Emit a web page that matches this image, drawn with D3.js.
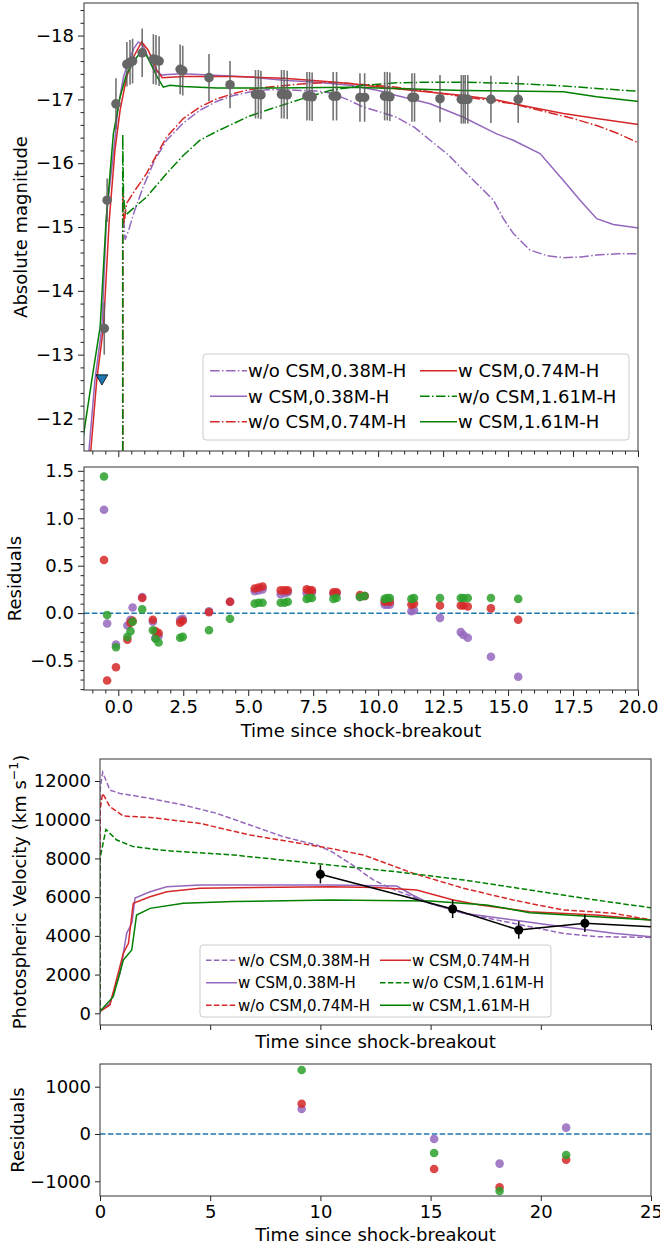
<!DOCTYPE html>
<html>
<head>
<meta charset="utf-8">
<script src="https://cdn.jsdelivr.net/npm/d3@7/dist/d3.min.js"></script>
<style>
body { margin: 0; background: white; }
</style>
</head>
<body>
<div id="chart"></div>
<script>
var W = 660, H = 1247;
var fontFam = "DejaVu Sans, sans-serif";

// ---------------- data: light curve ----------------
var obsTime = [-0.54, -0.43, -0.09, 0.33, 0.45, 0.55, 0.92, 1.35, 1.45, 1.57, 2.38, 2.48, 3.49, 4.30,
               5.28, 5.39, 5.49, 6.28, 6.38, 6.50, 7.26, 7.36, 7.46, 8.27, 8.40, 9.30, 9.48,
               10.25, 10.35, 10.45, 11.30, 11.40, 12.38, 13.20, 13.28, 13.35, 13.45, 14.34, 15.39];
var obsMag = [-13.41, -15.42, -16.93, -17.55, -17.58, -17.60, -17.73, -17.63, -17.62, -17.60, -17.47, -17.45, -17.34, -17.23,
              -17.08, -17.08, -17.07, -17.08, -17.08, -17.07, -17.05, -17.05, -17.04, -17.05, -17.05, -17.03, -17.03,
              -17.05, -17.05, -17.04, -17.03, -17.03, -17.01, -17.00, -17.00, -17.00, -17.00, -17.00, -17.00];
var obsErr = [0.41, 0.34, 0.40, 0.35, 0.35, 0.35, 0.38, 0.39, 0.39, 0.39, 0.39, 0.39, 0.37, 0.37,
              0.38, 0.38, 0.38, 0.38, 0.38, 0.38, 0.38, 0.38, 0.38, 0.38, 0.38, 0.38, 0.38,
              0.38, 0.38, 0.38, 0.38, 0.38, 0.37, 0.38, 0.38, 0.38, 0.38, 0.37, 0.37];
var limitTime = [-0.63];
var limitMag = [-12.63];

// model light curves
var lcT_noCSM038 = [0.17, 0.17, 0.2, 0.26, 0.4, 0.58, 0.96, 1.4, 1.86, 2.5, 3.14, 3.8, 4.43, 5.0, 5.71, 6.5, 7.64, 8.15, 8.8, 9.43,
                    10.1, 10.71, 11.4, 12.0, 12.7, 13.28, 13.92, 14.44, 14.82, 15.2, 15.84, 16.5, 17.13, 17.8, 18.41, 19.2, 19.95, 20];
var lcM_noCSM038 = [-10.0, -15.68, -15.2, -14.8, -14.95, -15.2, -15.63, -16.05, -16.36, -16.63, -16.83, -16.97, -17.06, -17.11, -17.15, -17.15, -17.13, -17.10, -17.0, -16.88,
                    -16.8, -16.72, -16.56, -16.36, -16.13, -15.89, -15.63, -15.42, -15.13, -14.9, -14.64, -14.55, -14.52, -14.53, -14.56, -14.58, -14.58, -14.58];
var lcT_CSM038 = [-1.2, -1.13, -0.9, -0.63, -0.45, -0.19, 0.0, 0.2, 0.4, 0.6, 0.77, 0.95, 1.2, 1.45, 1.67, 1.9, 2.5, 5.07, 6.35, 7.64,
                  8.92, 10.0, 10.71, 12.0, 13.28, 14.56, 15.2, 16.23, 17.13, 17.77, 18.41, 19.05, 19.95, 20];
var lcM_CSM038 = [-11.2, -11.49, -12.6, -13.43, -15.2, -16.15, -16.9, -17.35, -17.6, -17.8, -17.9, -17.85, -17.6, -17.45, -17.38, -17.39, -17.40, -17.35, -17.30, -17.27,
                  -17.22, -17.14, -17.06, -16.93, -16.72, -16.46, -16.36, -16.15, -15.73, -15.42, -15.13, -15.04, -14.99, -14.99];
var lcT_noCSM074 = [0.17, 0.17, 0.19, 0.22, 0.32, 0.6, 1.09, 1.5, 1.86, 2.5, 3.14, 3.8, 4.43, 5.0, 5.71, 7.0, 8.15, 9.5, 10.71, 12.0,
                    13.28, 14.2, 15.2, 16.49, 17.5, 18.41, 19.2, 19.95, 20];
var lcM_noCSM074 = [-10.0, -15.6, -15.3, -15.05, -15.37, -15.55, -15.84, -16.15, -16.41, -16.7, -16.88, -17.01, -17.09, -17.15, -17.19, -17.24, -17.27, -17.23, -17.19, -17.12,
                    -17.04, -16.99, -16.93, -16.80, -16.70, -16.59, -16.47, -16.33, -16.32];
var lcT_CSM074 = [-1.15, -1.06, -0.83, -0.57, -0.35, -0.13, 0.07, 0.32, 0.58, 0.9, 1.15, 1.48, 1.69, 2.5, 4.4, 5.07, 6.35, 7.64, 8.92, 9.43,
                  11.35, 13.28, 14.56, 15.84, 17.13, 18.41, 19.95, 20];
var lcM_CSM074 = [-11.1, -11.49, -12.6, -13.43, -15.1, -16.2, -16.83, -17.35, -17.66, -17.9, -17.77, -17.46, -17.34, -17.36, -17.36, -17.35, -17.33, -17.29, -17.25, -17.22,
                  -17.14, -17.06, -16.99, -16.88, -16.78, -16.70, -16.61, -16.61];
var lcT_noCSM161 = [0.17, 0.17, 0.2, 0.27, 0.32, 0.6, 1.09, 1.86, 2.5, 3.14, 3.8, 4.43, 5.0, 5.71, 7.0, 8.15, 9.43, 10.71, 12.0, 13.28,
                    15.2, 17.13, 18.41, 19.95, 20];
var lcM_noCSM161 = [-10.0, -16.45, -15.5, -15.2, -15.2, -15.3, -15.47, -15.84, -16.12, -16.36, -16.5, -16.62, -16.73, -16.83, -17.0, -17.14, -17.22, -17.26, -17.27, -17.27,
                    -17.25, -17.21, -17.17, -17.13, -17.13];
var lcT_CSM161 = [-1.5, -1.32, -1.02, -0.7, -0.47, -0.19, 0.07, 0.32, 0.71, 0.96, 1.2, 1.5, 1.73, 1.99, 2.5, 3.79, 6.0, 8.92, 10.71, 13.28,
                  17.13, 18.41, 19.95, 20];
var lcM_CSM161 = [-11.3, -11.79, -12.6, -13.43, -15.1, -16.46, -17.04, -17.4, -17.66, -17.78, -17.6, -17.35, -17.19, -17.22, -17.2, -17.18, -17.18, -17.19, -17.17, -17.14,
                  -17.12, -17.04, -16.97, -16.97];

// residuals of the light curve
var resTime = [-0.55, -0.43, -0.09, 0.35, 0.47, 0.55, 0.92, 1.33, 1.43, 1.55, 2.38, 2.48, 3.49, 4.30, 5.25, 5.40, 5.55, 6.25, 6.40, 6.52,
               7.25, 7.35, 7.45, 8.28, 8.40, 9.30, 9.48, 10.25, 10.35, 10.45, 11.28, 11.38, 12.38, 13.18, 13.28, 13.45, 14.34, 15.39];
var resCSM038 = [1.09, -0.11, -0.33, -0.13, -0.07, 0.06, 0.17, -0.09, -0.26, -0.24, -0.07, -0.06, 0.02, 0.12, 0.23, 0.24, 0.25, 0.20, 0.21, 0.22,
                 0.21, 0.22, 0.22, 0.20, 0.21, 0.17, 0.18, 0.09, 0.09, 0.09, 0.02, 0.03, -0.05, -0.20, -0.23, -0.26, -0.46, -0.67];
var resCSM074 = [0.56, -0.71, -0.57, -0.28, -0.10, -0.08, 0.16, -0.07, -0.19, -0.21, -0.10, -0.08, 0.01, 0.12, 0.26, 0.27, 0.28, 0.24, 0.24, 0.24,
                 0.25, 0.24, 0.24, 0.22, 0.22, 0.19, 0.18, 0.12, 0.13, 0.12, 0.09, 0.10, 0.08, 0.08, 0.08, 0.07, 0.05, -0.07];
var resCSM161 = [1.44, -0.02, -0.36, -0.25, -0.19, -0.09, 0.04, -0.18, -0.27, -0.31, -0.26, -0.25, -0.18, -0.06, 0.10, 0.11, 0.11, 0.11, 0.11, 0.12,
                 0.15, 0.16, 0.16, 0.15, 0.16, 0.17, 0.18, 0.15, 0.16, 0.16, 0.15, 0.16, 0.16, 0.16, 0.16, 0.16, 0.16, 0.15];

// ---------------- data: velocity ----------------
var velObsTime = [10.0, 16.0, 19.0, 22.0, 28.0];
var velObsVal = [7180, 5390, 4300, 4650, 4300];
var velObsErr = [470, 470, 450, 450, 450];

var vT_noCSM038 = [0, 0, 0.12, 0.45, 0.91, 2.27, 3.78, 5.29, 6.8, 8.32, 9.83, 10.44, 11.4, 12.4, 13.3, 14.2, 14.97, 16.5, 18.75, 21.0, 22.5, 25];
var vV_noCSM038 = [0, 11500, 12450, 11530, 11360, 11100, 10760, 10330, 9730, 9120, 8690, 8400, 7700, 6890, 6400, 6020, 5680, 5170, 4650, 4130, 3960, 3920];
var vT_CSM038 = [0, 0.45, 0.91, 1.21, 1.36, 1.45, 1.59, 2.27, 3.03, 4.54, 10.44, 13.46, 14.2, 14.97, 16.5, 18.75, 21.0, 23.3, 25];
var vV_CSM038 = [100, 520, 2070, 4130, 4470, 4700, 5950, 6280, 6540, 6630, 6630, 6570, 6100, 5680, 5170, 4820, 4470, 4130, 3960];
var vT_noCSM074 = [0, 0, 0.12, 0.45, 1.06, 2.27, 4.54, 6.8, 9.07, 10.44, 11.95, 14.22, 16.5, 18.75, 21.0, 23.3, 25];
var vV_noCSM074 = [0, 10500, 11360, 10670, 10190, 10120, 9810, 9210, 8780, 8520, 8180, 7230, 6460, 5850, 5340, 5170, 4820];
var vT_CSM074 = [0, 0.45, 1.06, 1.29, 1.51, 2.27, 3.03, 4.54, 10.44, 12.5, 14.37, 16.03, 17.24, 19.5, 22.5, 25];
var vV_CSM074 = [100, 430, 3100, 3620, 5680, 6020, 6280, 6460, 6540, 6500, 6370, 5850, 5600, 5250, 5080, 4820];
var vT_noCSM161 = [0, 0, 0.27, 0.76, 1.51, 3.03, 6.05, 10.44, 13.46, 16.5, 19.5, 22.5, 25];
var vV_noCSM161 = [0, 8000, 9500, 8950, 8610, 8400, 8180, 7660, 7310, 6890, 6370, 5850, 5450];
var vT_CSM161 = [0, 0.6, 1.06, 1.44, 1.66, 2.27, 3.78, 6.05, 10.44, 14.97, 17.54, 19.5, 22.5, 25];
var vV_CSM161 = [100, 860, 2750, 3270, 5080, 5420, 5680, 5770, 5850, 5800, 5600, 5200, 4990, 4820];

var velResTime = [9.15, 15.16, 18.13, 21.15];
var velResCSM038 = [529, -106, -626, 134];
var velResCSM074 = [640, -740, -1127, -543];
var velResCSM161 = [1353, -402, -1206, -444];

// labels and ticks
var legendLabels = ["w/o CSM,0.38M-H", "w CSM,0.38M-H", "w/o CSM,0.74M-H", "w CSM,0.74M-H", "w/o CSM,1.61M-H", "w CSM,1.61M-H"];
var lcYTicks = [-18, -17, -16, -15, -14, -13, -12];
var resXTicks = [0, 2.5, 5, 7.5, 10, 12.5, 15, 17.5, 20];
var resYTicks = [-0.5, 0, 0.5, 1.0, 1.5];
var velYTicks = [0, 2000, 4000, 6000, 8000, 10000, 12000];
var velXTicks = [0, 5, 10, 15, 20, 25];
var velResYTicks = [-1000, 0, 1000];

// ---------------- styles ----------------
var purple = "#9467bd", red = "#d62728", green = "#008000";
var dotColors = ["#9467bd", "#d62728", "#2ca02c"];
var dashDot = "9.6,2.4,1.5,2.4";
var dashed = "5.5,2.4";

var lcModels = [
  {t: lcT_noCSM038, v: lcM_noCSM038, color: purple, dash: dashDot},
  {t: lcT_CSM038, v: lcM_CSM038, color: purple, dash: null},
  {t: lcT_noCSM074, v: lcM_noCSM074, color: red, dash: dashDot},
  {t: lcT_CSM074, v: lcM_CSM074, color: red, dash: null},
  {t: lcT_noCSM161, v: lcM_noCSM161, color: green, dash: dashDot},
  {t: lcT_CSM161, v: lcM_CSM161, color: green, dash: null}
];
var velModels = [
  {t: vT_noCSM038, v: vV_noCSM038, color: purple, dash: dashed},
  {t: vT_CSM038, v: vV_CSM038, color: purple, dash: null},
  {t: vT_noCSM074, v: vV_noCSM074, color: red, dash: dashed},
  {t: vT_CSM074, v: vV_CSM074, color: red, dash: null},
  {t: vT_noCSM161, v: vV_noCSM161, color: green, dash: dashed},
  {t: vT_CSM161, v: vV_CSM161, color: green, dash: null}
];

var svg = d3.select("#chart").append("svg")
    .attr("width", W)
    .attr("height", H)
    .style("font-family", fontFam);

svg.append("rect").attr("width", W).attr("height", H).attr("fill", "white");

// panel boxes in pixels
var lcBox = {left: 84, right: 638, top: 3, bottom: 451};
var resBox = {left: 84, right: 638, top: 467, bottom: 690};
var velBox = {left: 100, right: 651, top: 759, bottom: 1025};
var vresBox = {left: 100, right: 651, top: 1064, bottom: 1196};

// scales
var xLC = d3.scaleLinear().domain([-1.32, 20]).range([lcBox.left, lcBox.right]);
var yLC = d3.scaleLinear().domain([-18.51, -11.49]).range([lcBox.top, lcBox.bottom]);
var yRes = d3.scaleLinear().domain([-0.81, 1.54]).range([resBox.bottom, resBox.top]);
var xVel = d3.scaleLinear().domain([0, 25]).range([velBox.left, velBox.right]);
var yVel = d3.scaleLinear().domain([-605, 13137]).range([velBox.bottom, velBox.top]);
var yVres = d3.scaleLinear().domain([-1311, 1480]).range([vresBox.bottom, vresBox.top]);

var clipId = 0;
function makeClip(box) {
    clipId++;
    svg.append("clipPath").attr("id", "clip" + clipId)
        .append("rect")
        .attr("x", box.left).attr("y", box.top)
        .attr("width", box.right - box.left).attr("height", box.bottom - box.top);
    return "url(#clip" + clipId + ")";
}

function styleAxis(g, size) {
    g.select(".domain").remove();
    g.selectAll("line").attr("stroke", "#222").attr("stroke-width", 1);
    g.selectAll("text").attr("font-size", size).attr("fill", "black").attr("font-family", fontFam);
}

function frame(box) {
    svg.append("rect")
        .attr("x", box.left).attr("y", box.top)
        .attr("width", box.right - box.left).attr("height", box.bottom - box.top)
        .attr("fill", "none").attr("stroke", "#333").attr("stroke-width", 1);
}

function minorRange(a, b, step, majors) {
    return d3.range(Math.round(a / step), Math.round(b / step) + 1)
        .map(function(i) { return +(i * step).toFixed(3); })
        .filter(function(v) { return majors.indexOf(v) < 0; });
}

function drawLines(g, models, x, y) {
    var line = d3.line()
        .x(function(d) { return x(d[0]); })
        .y(function(d) { return y(d[1]); });
    models.forEach(function(m) {
        g.append("path")
            .datum(d3.zip(m.t, m.v))
            .attr("d", line)
            .attr("fill", "none")
            .attr("stroke", m.color)
            .attr("stroke-width", 1.5)
            .attr("stroke-dasharray", m.dash);
    });
}

function drawDots(g, times, series, x, y) {
    series.forEach(function(vals, i) {
        g.selectAll(null)
            .data(d3.zip(times, vals))
            .enter().append("circle")
            .attr("cx", function(d) { return x(d[0]); })
            .attr("cy", function(d) { return y(d[1]); })
            .attr("r", 4.3)
            .attr("fill", dotColors[i])
            .attr("fill-opacity", 0.85);
    });
}

function legend(x0, y0, w, h, rowH, colX, handleLen, fontSize, models) {
    var lg = svg.append("g");
    lg.append("rect")
        .attr("x", x0).attr("y", y0).attr("width", w).attr("height", h)
        .attr("rx", 3)
        .attr("fill", "white").attr("fill-opacity", 0.8)
        .attr("stroke", "#cccccc");
    models.forEach(function(m, i) {
        var col = Math.floor(i / 3), row = i % 3;
        var lx = colX[col], ly = y0 + rowH * (row + 0.5) + 4;
        lg.append("line")
            .attr("x1", lx).attr("x2", lx + handleLen)
            .attr("y1", ly).attr("y2", ly)
            .attr("stroke", m.color).attr("stroke-width", 1.5)
            .attr("stroke-dasharray", m.dash);
        lg.append("text")
            .attr("x", lx + handleLen + 1).attr("y", ly)
            .attr("dy", "0.35em")
            .attr("font-size", fontSize)
            .text(legendLabels[i]);
    });
}

function yLabel(txt, x, y) {
    return svg.append("text")
        .attr("transform", "translate(" + x + "," + y + ") rotate(-90)")
        .attr("text-anchor", "middle")
        .attr("dy", "0.35em")
        .attr("font-size", 18)
        .text(txt);
}

function xLabel(txt, x, y) {
    svg.append("text")
        .attr("x", x).attr("y", y)
        .attr("text-anchor", "middle")
        .attr("font-size", 18)
        .text(txt);
}

// ================= panel 1: light curve =================
var lcX = [0, 2.5, 5, 7.5, 10, 12.5, 15, 17.5, 20];
svg.append("g").attr("transform", "translate(0," + lcBox.bottom + ")")
    .call(d3.axisBottom(xLC).tickValues(minorRange(-1, 20, 0.5, lcX)).tickSize(3.5).tickFormat(""))
    .call(styleAxis, 18);
svg.append("g").attr("transform", "translate(0," + lcBox.bottom + ")")
    .call(d3.axisBottom(xLC).tickValues(lcX).tickSize(6).tickFormat(""))
    .call(styleAxis, 18);
svg.append("g").attr("transform", "translate(" + lcBox.left + ",0)")
    .call(d3.axisLeft(yLC).tickValues(minorRange(-18.4, -11.6, 0.2, lcYTicks)).tickSize(3.5).tickFormat(""))
    .call(styleAxis, 18);
svg.append("g").attr("transform", "translate(" + lcBox.left + ",0)")
    .call(d3.axisLeft(yLC).tickValues(lcYTicks).tickSize(6).tickPadding(4).tickFormat(d3.format("d")))
    .call(styleAxis, 18);

var lcG = svg.append("g").attr("clip-path", makeClip(lcBox));
drawLines(lcG, lcModels, xLC, yLC);

// observed points with error bars
var obs = d3.zip(obsTime, obsMag, obsErr);
lcG.selectAll(".err").data(obs).enter().append("line")
    .attr("x1", function(d) { return xLC(d[0]); })
    .attr("x2", function(d) { return xLC(d[0]); })
    .attr("y1", function(d) { return yLC(d[1] - d[2]); })
    .attr("y2", function(d) { return yLC(d[1] + d[2]); })
    .attr("stroke", "#5a5a5a").attr("stroke-width", 1.6).attr("stroke-opacity", 0.85);
lcG.selectAll(".obs").data(obs).enter().append("circle")
    .attr("cx", function(d) { return xLC(d[0]); })
    .attr("cy", function(d) { return yLC(d[1]); })
    .attr("r", 4.8)
    .attr("fill", "#666666");

// upper limit triangle
lcG.selectAll(".lim").data(d3.zip(limitTime, limitMag)).enter().append("path")
    .attr("d", d3.symbol().type(d3.symbolTriangle).size(60))
    .attr("transform", function(d) { return "translate(" + xLC(d[0]) + "," + yLC(d[1]) + ") rotate(180)"; })
    .attr("fill", "#1f77b4").attr("stroke", "black").attr("stroke-width", 0.8);

frame(lcBox);
legend(203, 354, 426, 86, 25.5, [210, 420], 37, 18, lcModels);
yLabel("Absolute magnitude", 21, (lcBox.top + lcBox.bottom) / 2);

// ================= panel 2: residuals =================
svg.append("g").attr("transform", "translate(0," + resBox.bottom + ")")
    .call(d3.axisBottom(xLC).tickValues(minorRange(-1, 20, 0.5, resXTicks)).tickSize(3.5).tickFormat(""))
    .call(styleAxis, 18);
svg.append("g").attr("transform", "translate(0," + resBox.bottom + ")")
    .call(d3.axisBottom(xLC).tickValues(resXTicks).tickSize(6).tickPadding(4).tickFormat(d3.format(".1f")))
    .call(styleAxis, 18);
svg.append("g").attr("transform", "translate(" + resBox.left + ",0)")
    .call(d3.axisLeft(yRes).tickValues(minorRange(-0.8, 1.5, 0.1, resYTicks)).tickSize(3.5).tickFormat(""))
    .call(styleAxis, 18);
svg.append("g").attr("transform", "translate(" + resBox.left + ",0)")
    .call(d3.axisLeft(yRes).tickValues(resYTicks).tickSize(6).tickPadding(4).tickFormat(d3.format(".1f")))
    .call(styleAxis, 18);

var resG = svg.append("g").attr("clip-path", makeClip(resBox));
resG.append("line")
    .attr("x1", resBox.left).attr("x2", resBox.right)
    .attr("y1", yRes(0)).attr("y2", yRes(0))
    .attr("stroke", "#1f77b4").attr("stroke-width", 1.5).attr("stroke-dasharray", "5.5,2.4");
drawDots(resG, resTime, [resCSM038, resCSM074, resCSM161], xLC, yRes);
frame(resBox);
yLabel("Residuals", 15, (resBox.top + resBox.bottom) / 2);
xLabel("Time since shock-breakout", (resBox.left + resBox.right) / 2, 737);

// ================= panel 3: velocity =================
svg.append("g").attr("transform", "translate(0," + velBox.bottom + ")")
    .call(d3.axisBottom(xVel).tickValues(velXTicks).tickSize(5).tickFormat(""))
    .call(styleAxis, 18);
svg.append("g").attr("transform", "translate(" + velBox.left + ",0)")
    .call(d3.axisLeft(yVel).tickValues(velYTicks).tickSize(5).tickPadding(4).tickFormat(d3.format("d")))
    .call(styleAxis, 18);

var velG = svg.append("g").attr("clip-path", makeClip(velBox));
drawLines(velG, velModels, xVel, yVel);

var vobs = d3.zip(velObsTime, velObsVal, velObsErr);
velG.append("path")
    .datum(vobs)
    .attr("d", d3.line().x(function(d) { return xVel(d[0]); }).y(function(d) { return yVel(d[1]); }))
    .attr("fill", "none").attr("stroke", "black").attr("stroke-width", 1.5);
velG.selectAll(".verr").data(vobs).enter().append("line")
    .attr("x1", function(d) { return xVel(d[0]); })
    .attr("x2", function(d) { return xVel(d[0]); })
    .attr("y1", function(d) { return yVel(d[1] - d[2]); })
    .attr("y2", function(d) { return yVel(d[1] + d[2]); })
    .attr("stroke", "black").attr("stroke-width", 1.5);
velG.selectAll(".vobs").data(vobs).enter().append("circle")
    .attr("cx", function(d) { return xVel(d[0]); })
    .attr("cy", function(d) { return yVel(d[1]); })
    .attr("r", 4.5)
    .attr("fill", "black");

frame(velBox);
legend(200, 945, 351, 72, 22.5, [206, 380], 31, 15, velModels);

var vl = yLabel("", 20, (velBox.top + velBox.bottom) / 2);
vl.append("tspan").text("Photospheric Velocity (km s");
vl.append("tspan").attr("font-size", 12.5).attr("baseline-shift", "super").attr("dy", "-0.1em").text("\u22121");
vl.append("tspan").attr("dy", "0.1em").text(")");
xLabel("Time since shock-breakout", (velBox.left + velBox.right) / 2, 1048);

// ================= panel 4: velocity residuals =================
svg.append("g").attr("transform", "translate(0," + vresBox.bottom + ")")
    .call(d3.axisBottom(xVel).tickValues(velXTicks).tickSize(5).tickPadding(4).tickFormat(d3.format("d")))
    .call(styleAxis, 18);
svg.append("g").attr("transform", "translate(" + vresBox.left + ",0)")
    .call(d3.axisLeft(yVres).tickValues(velResYTicks).tickSize(5).tickPadding(4).tickFormat(d3.format("d")))
    .call(styleAxis, 18);

var vresG = svg.append("g").attr("clip-path", makeClip(vresBox));
vresG.append("line")
    .attr("x1", vresBox.left).attr("x2", vresBox.right)
    .attr("y1", yVres(0)).attr("y2", yVres(0))
    .attr("stroke", "#1f77b4").attr("stroke-width", 1.5).attr("stroke-dasharray", "5.5,2.4");
drawDots(vresG, velResTime, [velResCSM038, velResCSM074, velResCSM161], xVel, yVres);
frame(vresBox);
yLabel("Residuals", 18, (vresBox.top + vresBox.bottom) / 2);
xLabel("Time since shock-breakout", (vresBox.left + vresBox.right) / 2, 1241);
</script>
</body>
</html>
